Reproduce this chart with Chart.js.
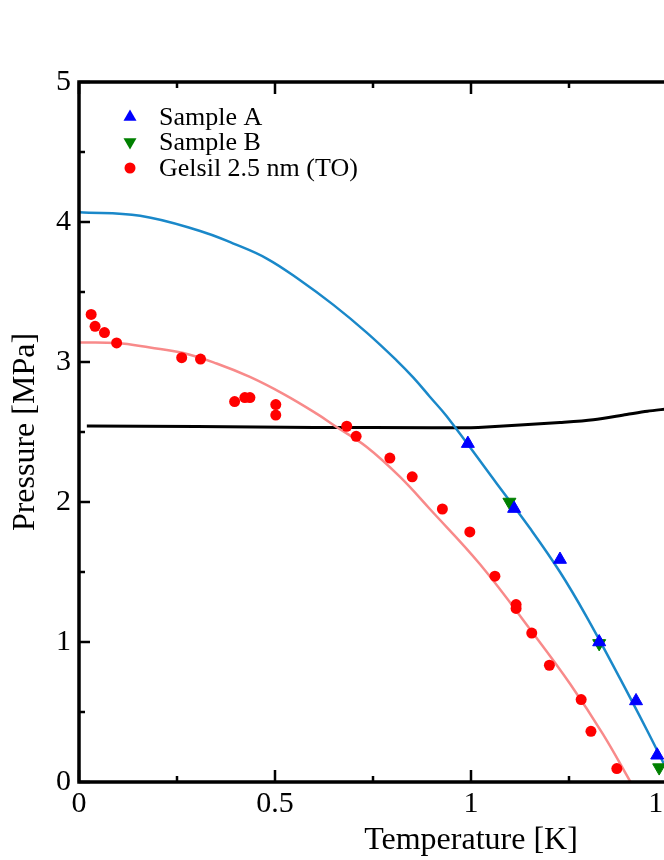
<!DOCTYPE html>
<html>
<head>
<meta charset="utf-8">
<script src="https://cdn.jsdelivr.net/npm/chart.js@4.4.1/dist/chart.umd.min.js"></script>
<style>
  html, body { margin: 0; padding: 0; background: #fff; overflow: hidden; width: 664px; height: 860px; }
  #wrap { position: absolute; left: 0; top: 0; width: 900px; height: 860px; }
</style>
</head>
<body>
<div id="wrap"><canvas id="chart" width="900" height="860"></canvas></div>
<script>
// measured points
var sampleA_T = [0.992, 1.110, 1.227, 1.327, 1.421, 1.475];
var sampleA_P = [2.417, 1.953, 1.589, 1.000, 0.579, 0.191];

var sampleB_T = [1.098, 1.327, 1.480];
var sampleB_P = [2.000, 0.990, 0.103];

var gelsil_T = [0.031, 0.041, 0.065, 0.096, 0.262, 0.310, 0.397, 0.423, 0.436, 0.502, 0.502,
                0.683, 0.707, 0.793, 0.850, 0.927, 0.997, 1.061, 1.115, 1.115, 1.155, 1.200,
                1.281, 1.306, 1.372];
var gelsil_P = [3.34, 3.255, 3.21, 3.136, 3.031, 3.021, 2.717, 2.746, 2.746, 2.696, 2.621,
                2.541, 2.469, 2.314, 2.18, 1.95, 1.786, 1.47, 1.267, 1.24, 1.064, 0.834,
                0.589, 0.362, 0.096];

// curves
var fitA_T = [0, 0.156, 0.309, 0.394, 0.479, 0.564, 0.649, 0.734, 0.810, 0.853, 0.895, 0.938,
              1.066, 1.151, 1.227, 1.295, 1.38, 1.448, 1.492, 1.515];
var fitA_P = [4.07, 4.045, 3.936, 3.846, 3.739, 3.584, 3.408, 3.21, 3.012, 2.888, 2.752, 2.612,
              2.13, 1.81, 1.50, 1.18, 0.74, 0.375, 0.13, 0.0];

var fitG_T = [0, 0.096, 0.181, 0.266, 0.351, 0.436, 0.521, 0.606, 0.657, 0.734, 0.819, 0.895,
              1.023, 1.159, 1.253, 1.337, 1.407];
var fitG_P = [3.14, 3.135, 3.103, 3.064, 2.989, 2.893, 2.772, 2.631, 2.536, 2.393, 2.179, 1.95,
              1.555, 1.06, 0.70, 0.34, 0.0];

var melt_T = [0.02, 0.3, 0.6, 0.9, 1.0, 1.04, 1.125, 1.227, 1.312, 1.397, 1.45, 1.50];
var melt_P = [2.543, 2.54, 2.533, 2.531, 2.531, 2.535, 2.55, 2.568, 2.588, 2.625, 2.648, 2.665];

var xTicks = [0, 0.5, 1, 1.5, 2];
var yTicks = [0, 1, 2, 3, 4, 5];

var legendNames = ['Sample A', 'Sample B', 'Gelsil 2.5 nm (TO)'];

function pts(xs, ys) {
  return xs.map(function (x, i) { return { x: x, y: ys[i] }; });
}

var serif = '"Liberation Serif", "DejaVu Serif", serif';

// inward ticks, frame and legend
var framePlugin = {
  id: 'frame',
  afterDatasetsDraw: function (chart) {
    var ctx = chart.ctx;
    var a = chart.chartArea;
    var xs = chart.scales.x, ys = chart.scales.y;
    ctx.save();
    ctx.strokeStyle = '#000';
    ctx.lineWidth = 3.5;
    ctx.beginPath();
    ctx.moveTo(a.left, a.top); ctx.lineTo(a.right, a.top);
    ctx.lineTo(a.right, a.bottom); ctx.lineTo(a.left, a.bottom);
    ctx.closePath();
    ctx.stroke();

    ctx.lineWidth = 2.5;
    ctx.beginPath();
    for (var v = 0; v <= 2.0001; v += 0.25) {
      var px = xs.getPixelForValue(v);
      var len = (Math.round(v * 4) % 2 === 0) ? 12 : 6;
      ctx.moveTo(px, a.bottom); ctx.lineTo(px, a.bottom - len);
      ctx.moveTo(px, a.top); ctx.lineTo(px, a.top + len);
    }
    for (var w = 0; w <= 5.0001; w += 0.5) {
      var py = ys.getPixelForValue(w);
      var l2 = (Math.round(w * 2) % 2 === 0) ? 11 : 6;
      ctx.moveTo(a.left, py); ctx.lineTo(a.left + l2, py);
      ctx.moveTo(a.right, py); ctx.lineTo(a.right - l2, py);
    }
    ctx.stroke();

    // legend
    var ds = chart.data.datasets;
    ctx.font = '26px ' + serif;
    ctx.textBaseline = 'middle';
    var rows = [117, 142, 168];
    for (var i = 0; i < 3; i++) {
      var d = ds[i];
      ctx.fillStyle = d.backgroundColor;
      ctx.strokeStyle = d.backgroundColor;
      ctx.lineWidth = 1;
      Chart.helpers.drawPoint(ctx, {
        pointStyle: d.pointStyle, radius: d.pointRadius, rotation: d.rotation || 0
      }, 130, rows[i]);
      ctx.fillStyle = '#000';
      ctx.fillText(legendNames[i], 159, rows[i] + 1);
    }
    ctx.restore();
  }
};

new Chart(document.getElementById('chart'), {
  type: 'scatter',
  data: {
    datasets: [
      {
        label: legendNames[0],
        data: pts(sampleA_T, sampleA_P),
        pointStyle: 'triangle',
        pointRadius: 7.5,
        backgroundColor: '#0000ff',
        borderColor: '#0000ff',
        borderWidth: 1
      },
      {
        label: legendNames[1],
        data: pts(sampleB_T, sampleB_P),
        pointStyle: 'triangle',
        rotation: 180,
        pointRadius: 7.5,
        backgroundColor: '#008000',
        borderColor: '#008000',
        borderWidth: 1
      },
      {
        label: legendNames[2],
        data: pts(gelsil_T, gelsil_P),
        pointStyle: 'circle',
        pointRadius: 5.5,
        backgroundColor: '#ff0000',
        borderColor: '#ff0000',
        borderWidth: 0
      },
      {
        label: 'fit A',
        data: pts(fitA_T, fitA_P),
        showLine: true,
        pointRadius: 0,
        borderColor: '#1a88c9',
        borderWidth: 2.5,
        tension: 0.4
      },
      {
        label: 'fit Gelsil',
        data: pts(fitG_T, fitG_P),
        showLine: true,
        pointRadius: 0,
        borderColor: '#f88a8a',
        borderWidth: 2.5,
        tension: 0.4
      },
      {
        label: 'melting',
        data: pts(melt_T, melt_P),
        showLine: true,
        pointRadius: 0,
        borderColor: '#000',
        borderWidth: 3,
        tension: 0.3
      }
    ]
  },
  options: {
    responsive: false,
    animation: false,
    events: [],
    layout: { padding: { top: 82, right: 37, left: 0, bottom: 0 } },
    plugins: { legend: { display: false }, tooltip: { enabled: false } },
    scales: {
      x: {
        type: 'linear',
        min: 0, max: 2,
        afterFit: function (s) { s.height = 78; },
        afterBuildTicks: function (s) { s.ticks = xTicks.map(function (v) { return { value: v }; }); },
        grid: { display: false, drawTicks: false },
        border: { display: false },
        ticks: {
          color: '#000', font: { family: serif, size: 30 }, padding: 4, autoSkip: false, maxRotation: 0,
          callback: function (v) { return String(v); }
        },
        title: { display: true, text: 'Temperature [K]', color: '#000', font: { family: serif, size: 32 }, padding: { top: 0, bottom: 0 } }
      },
      y: {
        type: 'linear',
        min: 0, max: 5,
        afterFit: function (s) { s.width = 79; },
        afterBuildTicks: function (s) { s.ticks = yTicks.map(function (v) { return { value: v }; }); },
        grid: { display: false, drawTicks: false },
        border: { display: false },
        ticks: {
          color: '#000', font: { family: serif, size: 30 }, padding: 8,
          callback: function (v) { return String(v); }
        },
        title: { display: true, text: 'Pressure [MPa]', color: '#000', font: { family: serif, size: 32 }, padding: { top: 6, bottom: 0 } }
      }
    }
  },
  plugins: [framePlugin]
});
</script>
</body>
</html>
